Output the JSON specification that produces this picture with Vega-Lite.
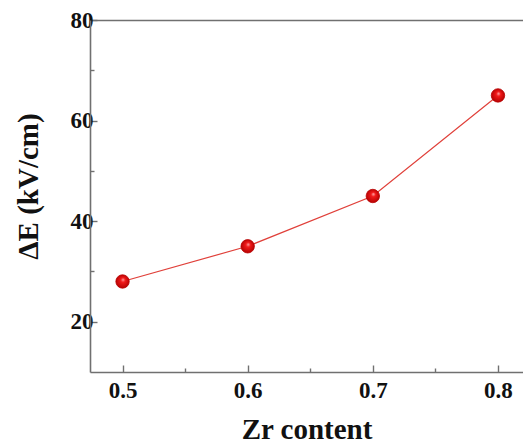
{
  "$schema": "https://vega.github.io/schema/vega-lite/v6.json",
  "autosize": {"type": "none"},
  "padding": {"left": 90, "top": 20, "right": 0, "bottom": 75},
  "width": 433,
  "height": 352,
  "background": "white",
  "config": {
    "view": {"stroke": null},
    "font": "Liberation Serif",
    "axis": {
      "domainColor": "#707070",
      "domainWidth": 1.6,
      "tickColor": "#707070",
      "tickWidth": 1.4,
      "grid": false
    }
  },
  "data": {
    "values": [
      {"zr": 0.5, "dE": 28},
      {"zr": 0.6, "dE": 35},
      {"zr": 0.7, "dE": 45},
      {"zr": 0.8, "dE": 65}
    ]
  },
  "resolve": {"axis": {"x": "independent", "y": "independent"}},
  "layer": [
    {
      "mark": {"type": "line", "color": "#e0403a", "strokeWidth": 1.2},
      "encoding": {
        "x": {
          "field": "zr", "type": "quantitative",
          "scale": {"domain": [0.474, 0.82], "nice": false, "zero": false},
          "axis": {
            "orient": "bottom",
            "title": "Zr content",
            "values": [0.5, 0.55, 0.6, 0.65, 0.7, 0.75, 0.8],
            "labelExpr": "round(datum.value*100) % 10 === 0 ? format(datum.value, '.1f') : ''",
            "tickSize": {"condition": {"test": "round(datum.value*100) % 10 === 0", "value": -7}, "value": -4},
            "labelPadding": 14,
            "labelFont": "Liberation Serif",
            "labelFontWeight": "bold",
            "labelFontSize": 23,
            "labelColor": "#111111",
            "titleFont": "Liberation Serif",
            "titleFontWeight": "bold",
            "titleFontSize": 29,
            "titleColor": "#111111",
            "titleY": 66,
            "titleBaseline": "alphabetic"
          }
        },
        "y": {
          "field": "dE", "type": "quantitative",
          "scale": {"domain": [10, 80], "nice": false, "zero": false},
          "axis": {
            "orient": "left",
            "title": "ΔE (kV/cm)",
            "values": [20, 30, 40, 50, 60, 70, 80],
            "labelExpr": "datum.value % 20 === 0 ? datum.label : ''",
            "tickSize": {"condition": {"test": "datum.value % 20 === 0", "value": -7}, "value": -4},
            "labelPadding": 4,
            "labelFont": "Liberation Serif",
            "labelFontWeight": "bold",
            "labelFontSize": 23,
            "labelColor": "#111111",
            "titleFont": "Liberation Serif",
            "titleFontWeight": "bold",
            "titleFontSize": 29,
            "titleColor": "#111111",
            "titleAngle": 270,
            "titleX": -62,
            "titleY": 166,
            "titleAlign": "center",
            "titleBaseline": "middle"
          }
        }
      }
    },
    {
      "mark": {
        "type": "point", "filled": true, "size": 180, "opacity": 1,
        "color": {
          "gradient": "radial",
          "x1": 0.55, "y1": 0.35, "r1": 0,
          "x2": 0.5, "y2": 0.5, "r2": 0.55,
          "stops": [
            {"offset": 0, "color": "#ffb0b0"},
            {"offset": 0.3, "color": "#f21a1a"},
            {"offset": 1, "color": "#b00000"}
          ]
        },
        "stroke": "#b80000",
        "strokeWidth": 0.8
      },
      "encoding": {
        "x": {
          "field": "zr", "type": "quantitative",
          "scale": {"domain": [0.474, 0.82], "nice": false, "zero": false},
          "axis": {"orient": "top", "title": null, "labels": false, "ticks": false, "domain": true}
        },
        "y": {
          "field": "dE", "type": "quantitative",
          "scale": {"domain": [10, 80], "nice": false, "zero": false},
          "axis": null
        }
      }
    }
  ]
}
